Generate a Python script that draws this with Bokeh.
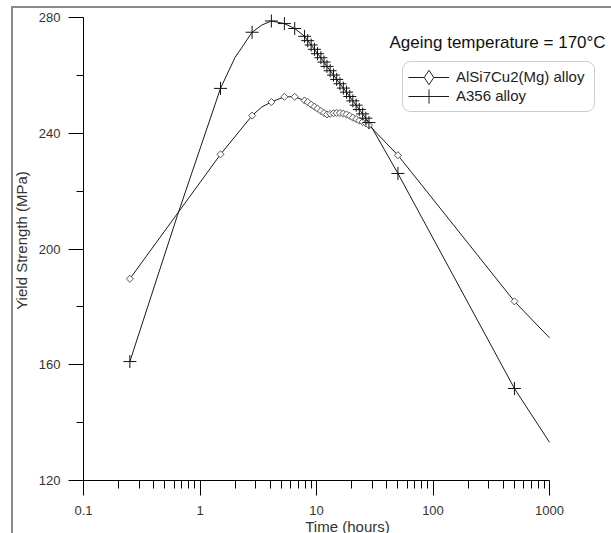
import numpy as np
from bokeh.plotting import figure
from bokeh.models import (FixedTicker, CustomJSTickFormatter, Legend, LegendItem,
                          Label, Range1d, BoxAnnotation)
from bokeh.embed import file_html
from bokeh.resources import INLINE

FONT = "Liberation Sans"

# ---------------- data ----------------
# ageing times of the measurements (hours)
times = [0.25, 1.5, 2.8, 4.1, 5.3, 6.5, 7.9, 8.4, 9.0, 9.6, 10.2, 10.9, 11.6,
         12.3, 13.1, 14.0, 14.9, 15.9, 17.0, 18.1, 19.3, 20.5, 21.9, 23.3,
         24.9, 26.5, 28.2, 50, 500]

# AlSi7Cu2(Mg) alloy yield strength (MPa)
alsi_y = [189.7, 232.7, 246.1, 250.8, 252.6, 252.6, 251.3, 250.8, 249.9, 249.2,
          248.5, 247.7, 247.0, 246.5, 246.7, 246.9, 247.0, 247.0, 246.8, 246.5,
          246.0, 245.4, 244.9, 244.4, 243.9, 243.4, 242.8, 232.4, 181.9]

# A356 alloy yield strength (MPa)
a356_y = [161.1, 255.5, 274.9, 278.8, 277.9, 276.2, 273.5, 272.0, 270.5, 269.0,
          267.5, 266.1, 264.6, 263.1, 261.6, 260.1, 258.6, 257.1, 255.6, 254.2,
          252.7, 251.2, 249.7, 248.2, 246.7, 245.2, 243.7, 226.1, 151.8]

# extra points of the fitted curves
alsi_curve_extra_t = [3.4, 1000]
alsi_curve_extra_y = [249.1, 169.3]
a356_curve_extra_t = [0.64, 2.0, 3.4, 1000]
a356_curve_extra_y = [211.6, 266.2, 277.4, 133.2]

x_ticks = [0.1, 1, 10, 100, 1000]
x_minor_ticks = [k * d for d in (0.1, 1, 10, 100) for k in range(2, 10)]
y_ticks = [120, 160, 200, 240, 280]
y_minor_ticks = [140, 180, 220, 260]

series_names = ["AlSi7Cu2(Mg) alloy", "A356 alloy"]
annotation_text = "Ageing temperature = 170°C"


def merge(t1, y1, t2, y2):
    pairs = sorted(zip(list(t1) + list(t2), list(y1) + list(y2)))
    return [a for a, _ in pairs], [b for _, b in pairs]


alsi_curve_t, alsi_curve_y = merge(times, alsi_y, alsi_curve_extra_t, alsi_curve_extra_y)
a356_curve_t, a356_curve_y = merge(times, a356_y, a356_curve_extra_t, a356_curve_extra_y)

# ---------------- layout geometry (pixels) ----------------
AX_LEFT, AX_RIGHT = 83, 549      # x pixels of 0.1 and 1000
AX_TOP, AX_BOTTOM = 17, 480      # y pixels of 280 and 120
W, H = 611, 533
frame_w = W - AX_LEFT
frame_h = AX_BOTTOM
x_end = x_ticks[0] * 10 ** ((frame_w / (AX_RIGHT - AX_LEFT)) * np.log10(x_ticks[-1] / x_ticks[0]))
y_end = y_ticks[0] + (y_ticks[-1] - y_ticks[0]) * frame_h / (AX_BOTTOM - AX_TOP)

p = figure(frame_width=frame_w, frame_height=frame_h, x_axis_type="log",
           x_range=Range1d(x_ticks[0], x_end), y_range=Range1d(y_ticks[0], y_end),
           output_backend="svg", toolbar_location=None,
           min_border_left=AX_LEFT, min_border_right=0, min_border_top=0,
           min_border_bottom=H - AX_BOTTOM, background_fill_color="white",
           border_fill_color="white")
p.outline_line_color = None
p.xgrid.visible = False
p.ygrid.visible = False

xa = p.xaxis[0]
xa.bounds = (x_ticks[0], x_ticks[-1])
xa.ticker = FixedTicker(ticks=x_ticks, minor_ticks=x_minor_ticks)
xa.formatter = CustomJSTickFormatter(code="return String(Math.round(tick*10)/10);")
xa.axis_label = "Time (hours)"
xa.major_tick_out = 15
xa.major_tick_in = 0
xa.minor_tick_out = 8
xa.minor_tick_in = 0
xa.major_label_standoff = 10
xa.axis_label_standoff = 0

ya = p.yaxis[0]
ya.bounds = (y_ticks[0], y_ticks[-1])
ya.ticker = FixedTicker(ticks=y_ticks, minor_ticks=y_minor_ticks)
ya.axis_label = "Yield Strength (MPa)"
ya.major_tick_out = 15
ya.major_tick_in = 0
ya.minor_tick_out = 7
ya.minor_tick_in = 0
ya.major_label_standoff = 8
ya.axis_label_standoff = 6

for ax in (xa, ya):
    ax.axis_line_color = "black"
    ax.major_tick_line_color = "black"
    ax.minor_tick_line_color = "black"
    ax.major_label_text_font = FONT
    ax.major_label_text_font_size = "13px"
    ax.major_label_text_color = "#333333"
    ax.axis_label_text_font = FONT
    ax.axis_label_text_font_size = "15px"
    ax.axis_label_text_font_style = "normal"
    ax.axis_label_text_color = "#333333"

# curves
l_alsi = p.line(alsi_curve_t, alsi_curve_y, line_color="#1a1a1a", line_width=1)
l_a356 = p.line(a356_curve_t, a356_curve_y, line_color="#1a1a1a", line_width=1)

# markers
p.scatter(times, alsi_y, marker="square", angle=np.pi / 4, size=5,
          line_color="#555555", fill_color="white", line_width=1)
p.scatter(times, a356_y, marker="cross", size=13, line_color="#111111",
          line_width=1)

# legend-only marker renderers (hidden in the plot itself)
lg_alsi = p.scatter(times, alsi_y, marker="diamond", size=10,
                    line_color="#222222", fill_color="white", line_width=1,
                    visible=False)
lg_a356 = p.scatter(times, a356_y, marker="cross", size=15,
                    line_color="#222222", line_width=1, visible=False)

# rounded legend frame (legend box: x 402..594, y 61..111 px)
box = BoxAnnotation(left=402 - AX_LEFT, right=594 - AX_LEFT,
                    top=AX_BOTTOM - 61, bottom=AX_BOTTOM - 111,
                    left_units="screen", right_units="screen",
                    top_units="screen", bottom_units="screen",
                    fill_color="white", fill_alpha=1, line_color="#555555",
                    line_width=1)
if "border_radius" in BoxAnnotation.properties():
    box.border_radius = 8
p.add_layout(box)

ROW_H = 36                 # tall rows give larger legend markers
row_centres = [76.5, 95.5]  # pixel y of the two legend rows
items = [LegendItem(label=series_names[0], renderers=[l_alsi, lg_alsi]),
         LegendItem(label=series_names[1], renderers=[l_a356, lg_a356])]
for item, yc in zip(items, row_centres):
    lg = Legend(items=[item],
                location=(408 - AX_LEFT, AX_BOTTOM - (yc + ROW_H / 2)),
                orientation="vertical", padding=0, spacing=0,
                glyph_width=41, glyph_height=ROW_H, label_height=ROW_H,
                label_standoff=7, margin=0,
                border_line_alpha=0, background_fill_alpha=0,
                inactive_fill_alpha=0,
                label_text_font=FONT, label_text_font_size="15px",
                label_text_color="#222222")
    p.add_layout(lg)

p.add_layout(Label(x=306, y=438, x_units="screen", y_units="screen",
                   text=annotation_text, text_font=FONT, text_font_size="17px",
                   text_baseline="middle", text_color="#111111"))

# grey frame around the chart (page decoration)
p.stylesheets = [":host::after { content: ''; position: absolute; left: 11px; top: 6px; "
                 "width: 600px; height: 527px; box-sizing: border-box; "
                 "border-left: 2px solid #8a8a8a; border-top: 2px solid #8a8a8a; "
                 "pointer-events: none; }"]

open("out.html", "w").write(file_html(p, INLINE))
